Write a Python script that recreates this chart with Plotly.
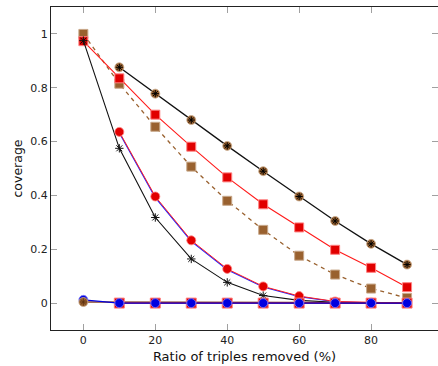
import plotly.graph_objects as go

x_full = [0, 10, 20, 30, 40, 50, 60, 70, 80, 90]
x_from10 = [10, 20, 30, 40, 50, 60, 70, 80, 90]

# brown circle + star, black line (starts at 10)
a_vals = [0.876, 0.778, 0.68, 0.584, 0.49, 0.396, 0.305, 0.22, 0.143]
# red squares, red line
b_vals = [0.973, 0.835, 0.70, 0.581, 0.467, 0.367, 0.281, 0.198, 0.131, 0.059]
# brown squares, dashed brown line
c_vals = [1.0, 0.815, 0.655, 0.507, 0.38, 0.272, 0.176, 0.106, 0.054, 0.019]
# red circles, red line (starts at 10)
d_vals = [0.636, 0.396, 0.233, 0.127, 0.062, 0.026, 0.006, 0.002, 0.0]
# blue line next to the red-circle line
d_blue_vals = [0.632, 0.392, 0.229, 0.124, 0.060, 0.024, 0.005, 0.001, 0.0]
# black stars, black line
e_vals = [0.975, 0.575, 0.318, 0.164, 0.077, 0.028, 0.010, 0.003, 0.001, 0.0]
# blue circles, blue line (bottom)
f_vals = [0.012, 0.0, 0.0, 0.0, 0.0, 0.0, 0.0, 0.0, 0.0, 0.0]
# red squares, red line (bottom, starts at 10)
g_vals = [0.0, 0.0, 0.0, 0.0, 0.0, 0.0, 0.0, 0.0, 0.0]
# brown line (bottom) with brown circle+star at 0
h_vals = [0.004, 0.004, 0.004, 0.003, 0.003, 0.002, 0.002, 0.001, 0.001, 0.0]

x_ticks = [0, 20, 40, 60, 80]
y_ticks = [0, 0.2, 0.4, 0.6, 0.8, 1]
y_tick_text = ["0", "0.2", "0.4", "0.6", "0.8", "1"]

RED = "#e10000"
RED_EDGE = "#ff8080"
BROWN = "#99612f"
BROWN_EDGE = "#c8a88a"
BLUE = "#0000e0"
BLUE_EDGE = "#8080ff"

fig = go.Figure()

# C: brown dashed squares
fig.add_trace(go.Scatter(x=x_full, y=c_vals, mode="lines+markers",
    line=dict(color=BROWN, width=1.3, dash="4px,4px"),
    marker=dict(symbol="square", size=9, color=BROWN, line=dict(color=BROWN_EDGE, width=1))))
# B: red squares
fig.add_trace(go.Scatter(x=x_full, y=b_vals, mode="lines+markers",
    line=dict(color="#ff1a1a", width=1.1),
    marker=dict(symbol="square", size=9, color=RED, line=dict(color=RED_EDGE, width=1))))
# E: black stars
fig.add_trace(go.Scatter(x=x_full, y=e_vals, mode="lines+markers",
    line=dict(color="#111111", width=1.1),
    marker=dict(symbol="asterisk-open", size=7, color="#111111", line=dict(color="#111111", width=1))))
# D blue line
fig.add_trace(go.Scatter(x=x_from10, y=d_blue_vals, mode="lines",
    line=dict(color="#2020ff", width=1.1)))
# D red circles
fig.add_trace(go.Scatter(x=x_from10, y=d_vals, mode="lines+markers",
    line=dict(color="#ff2020", width=1.0),
    marker=dict(symbol="circle", size=9, color=RED, line=dict(color=RED_EDGE, width=0.8))))
# A: black line, brown circles with star
fig.add_trace(go.Scatter(x=x_from10, y=a_vals, mode="lines+markers",
    line=dict(color="#111111", width=1.3),
    marker=dict(symbol="circle", size=9, color=BROWN, line=dict(color=BROWN_EDGE, width=0.8))))
fig.add_trace(go.Scatter(x=x_from10, y=a_vals, mode="markers",
    marker=dict(symbol="asterisk-open", size=6, color="#000000", line=dict(color="#000000", width=1))))
# H: bottom brown line
fig.add_trace(go.Scatter(x=x_full, y=h_vals, mode="lines",
    line=dict(color="#8a4a30", width=1.6)))
# G: bottom red squares
fig.add_trace(go.Scatter(x=x_from10, y=g_vals, mode="lines+markers",
    line=dict(color=RED, width=1.2),
    marker=dict(symbol="square", size=10, color=RED, line=dict(color=RED_EDGE, width=1))))
# F: bottom blue circles
fig.add_trace(go.Scatter(x=x_full, y=f_vals, mode="lines+markers",
    line=dict(color=BLUE, width=1.4),
    marker=dict(symbol="circle", size=9, color=BLUE, line=dict(color=BLUE_EDGE, width=0.8))))
# H marker at 0 (brown circle with star)
fig.add_trace(go.Scatter(x=x_full[:1], y=h_vals[:1], mode="markers",
    marker=dict(symbol="circle", size=9, color=BROWN, line=dict(color=BROWN_EDGE, width=0.8))))
fig.add_trace(go.Scatter(x=x_full[:1], y=h_vals[:1], mode="markers",
    marker=dict(symbol="asterisk-open", size=6, color="#5a3010", line=dict(color="#5a3010", width=0.8))))

axis_common = dict(
    showgrid=False, zeroline=False, showline=True, linecolor="#222222", linewidth=1.2,
    mirror="ticks", ticks="inside", ticklen=6, tickwidth=1.3, tickcolor="#a0a0a0",
    tickfont=dict(family="DejaVu Sans", size=11, color="#222222"),
    automargin=False,
)

fig.update_layout(
    width=438, height=366,
    margin=dict(l=51, r=0, t=7, b=36),
    paper_bgcolor="white", plot_bgcolor="white",
    showlegend=False,
    font=dict(family="DejaVu Sans", color="#111111"),
    xaxis=dict(range=[-9, 98.6], tickvals=x_ticks,
               title=dict(text="Ratio of triples removed (%)", font=dict(size=13), standoff=5),
               **axis_common),
    yaxis=dict(range=[-0.1, 1.1], tickvals=y_ticks, ticktext=y_tick_text,
               title=dict(text="coverage", font=dict(size=12.5), standoff=4),
               **axis_common),
)

fig.write_html(
    "out.html",
    config={"displayModeBar": False},
    post_script="document.body.style.margin='0';document.body.style.overflow='hidden';",
)
